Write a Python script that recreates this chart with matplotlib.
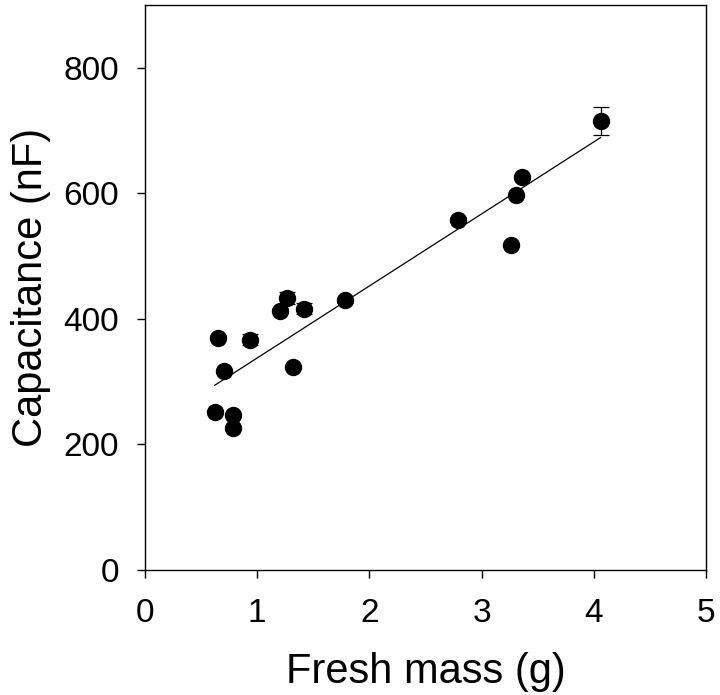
import matplotlib.pyplot as plt
import numpy as np

plt.rcParams['font.family'] = ['Liberation Sans', 'DejaVu Sans']

# fresh mass (g) and capacitance (nF)
fresh_mass = [0.62, 0.65, 0.70, 0.78, 0.78, 0.94, 1.20, 1.27, 1.32, 1.42, 1.78, 2.79, 3.26, 3.31, 3.36, 4.06]
capacitance = [252, 370, 317, 247, 226, 367, 413, 433, 323, 416, 430, 558, 518, 597, 626, 715]
cap_err = [3, 4, 3, 3, 3, 9, 4, 10, 3, 9, 4, 4, 3, 3, 4, 22]

fig = plt.figure(figsize=(7.2, 6.95), dpi=100)
ax = fig.add_axes([145 / 720, 125 / 695, 561 / 720, 565 / 695])

# error bars + dots
ax.errorbar(fresh_mass, capacitance, yerr=cap_err, fmt='o', color='black',
            markersize=11.5, ecolor='black', elinewidth=0.9, capsize=5.5,
            capthick=0.9, zorder=3)

# linear regression
slope, icpt = np.polyfit(fresh_mass, capacitance, 1)
xs = np.array([min(fresh_mass), max(fresh_mass)])
ax.plot(xs, slope * xs + icpt, color='black', linewidth=0.9, zorder=2)

ax.set_xlim(0, 5)
ax.set_ylim(0, 900)
ax.set_xticks([0, 1, 2, 3, 4, 5])
ax.set_yticks([0, 200, 400, 600, 800])
ax.tick_params(direction='out', length=5.5, width=1, labelsize=24)
ax.tick_params(axis='x', pad=15)
ax.tick_params(axis='y', pad=13)
for sp in ax.spines.values():
    sp.set_linewidth(1)

ax.set_xlabel('Fresh mass (g)', fontsize=30, labelpad=16)
ax.set_ylabel('Capacitance (nF)', fontsize=30, labelpad=9)

fig.savefig('out.png', dpi=100)
